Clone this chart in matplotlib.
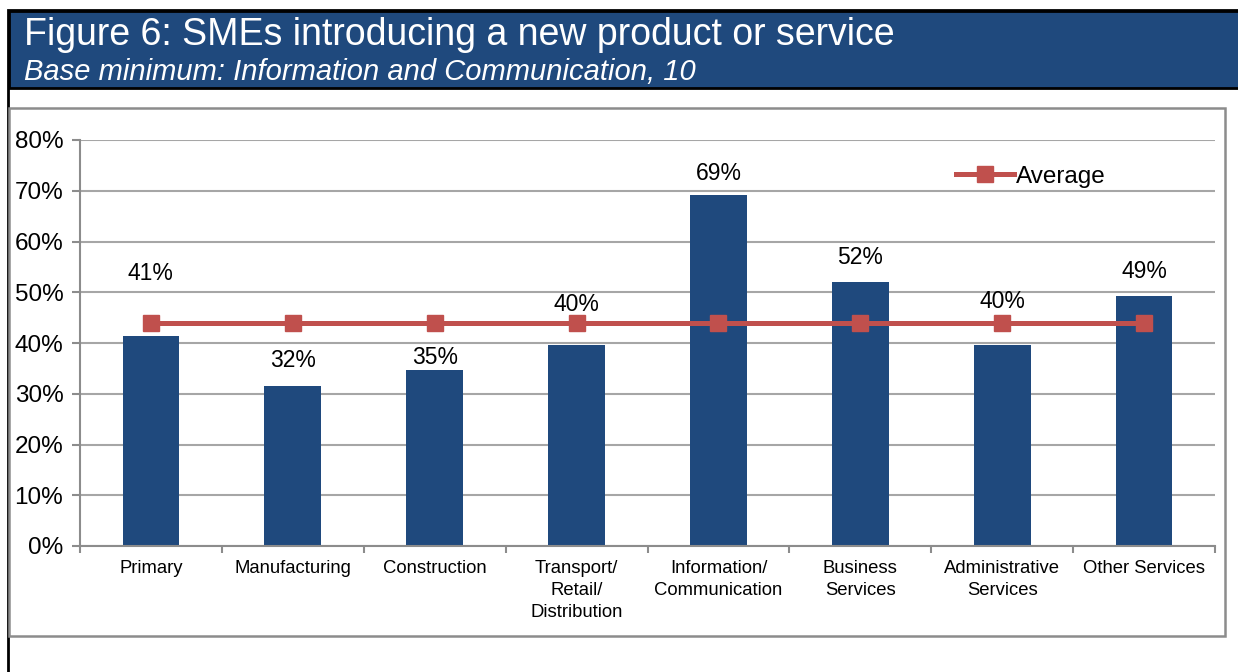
import matplotlib.pyplot as plt
from matplotlib.patches import Rectangle
from matplotlib.lines import Line2D
import numpy as np

plt.rcParams['font.family'] = ['Liberation Sans', 'DejaVu Sans']

# sector shares introducing a new product or service
sectors = ['Primary', 'Manufacturing', 'Construction', 'Transport/\nRetail/\nDistribution',
           'Information/\nCommunication', 'Business\nServices', 'Administrative\nServices',
           'Other Services']
share = [41.4, 31.6, 34.7, 39.6, 69.2, 52.0, 39.6, 49.3]
average = 44.0
yticks = [0, 10, 20, 30, 40, 50, 60, 70, 80]
# label centre height above each bar top (points), shifted so labels clear the average line
label_lift = [45, 18, 9, 29.5, 15.5, 17.5, 31.5, 17.5]

title = 'Figure 6: SMEs introducing a new product or service'
subtitle = 'Base minimum: Information and Communication, 10'

W, H = 1238, 672
fig = plt.figure(figsize=(W / 100, H / 100), dpi=100)

def fx(px):
    return px / W

def fy(py):
    return 1 - py / H

# outer black border and header band
fig.patches.append(Rectangle((fx(8), fy(680)), fx(1240), fy(10) - fy(680),
                             transform=fig.transFigure, fill=False,
                             edgecolor='black', linewidth=2))
fig.patches.append(Rectangle((fx(9), fy(88)), fx(1240), fy(11) - fy(88),
                             transform=fig.transFigure, facecolor='#1F497D',
                             edgecolor='black', linewidth=2))
# chart frame
fig.patches.append(Rectangle((fx(9), fy(636)), fx(1216), fy(108) - fy(636),
                             transform=fig.transFigure, fill=False,
                             edgecolor='#8C8C8C', linewidth=1.8))

fig.text(fx(24), fy(35), title, color='white', fontsize=27, va='center', ha='left')
fig.text(fx(24), fy(72), subtitle, color='white', fontsize=21, style='italic',
         va='center', ha='left')

ax = fig.add_axes([fx(80), fy(546), fx(1215) - fx(80), fy(140) - fy(546)])

x = np.arange(len(sectors))
ax.bar(x, share, width=0.4, color='#1F497D', zorder=2)
ax.plot(x, [average] * len(x), color='#C0504D', linewidth=3.6, marker='s',
        markersize=12, zorder=3)

for xi, v, lift in zip(x, share, label_lift):
    ax.annotate(f'{v:.0f}%', (xi, v), xytext=(0, lift), textcoords='offset points',
                ha='center', va='center', fontsize=16.5, zorder=4)

ax.set_xlim(-0.5, len(sectors) - 0.5)
ax.set_ylim(0, 80)
ax.set_yticks(yticks)
ax.set_yticklabels([f'{t}%' for t in yticks], fontsize=17.5)
ax.yaxis.grid(True, color='#A6A6A6', linewidth=1.5, zorder=0)
ax.set_axisbelow(True)

ax.set_xticks(x)
ax.set_xticklabels(sectors, fontsize=13.3, linespacing=1.38)
ax.set_xticks(np.arange(len(sectors) + 1) - 0.5, minor=True)
ax.tick_params(axis='x', which='major', length=0, pad=10)
ax.tick_params(axis='x', which='minor', length=5, width=1.5, color='#8C8C8C')
ax.tick_params(axis='y', length=6, width=1.5, color='#8C8C8C', pad=6)

for side in ['top', 'right']:
    ax.spines[side].set_visible(False)
for side in ['left', 'bottom']:
    ax.spines[side].set_color('#8C8C8C')
    ax.spines[side].set_linewidth(1.5)

handle = Line2D([], [], color='#C0504D', linewidth=3.6, marker='s', markersize=12)
ax.legend([handle], ['Average'], loc='upper right', bbox_to_anchor=(0.912, 0.96),
          frameon=False, fontsize=17.5, handlelength=2.4, handletextpad=0.05,
          borderaxespad=0)

fig.savefig('out.png', dpi=100)
